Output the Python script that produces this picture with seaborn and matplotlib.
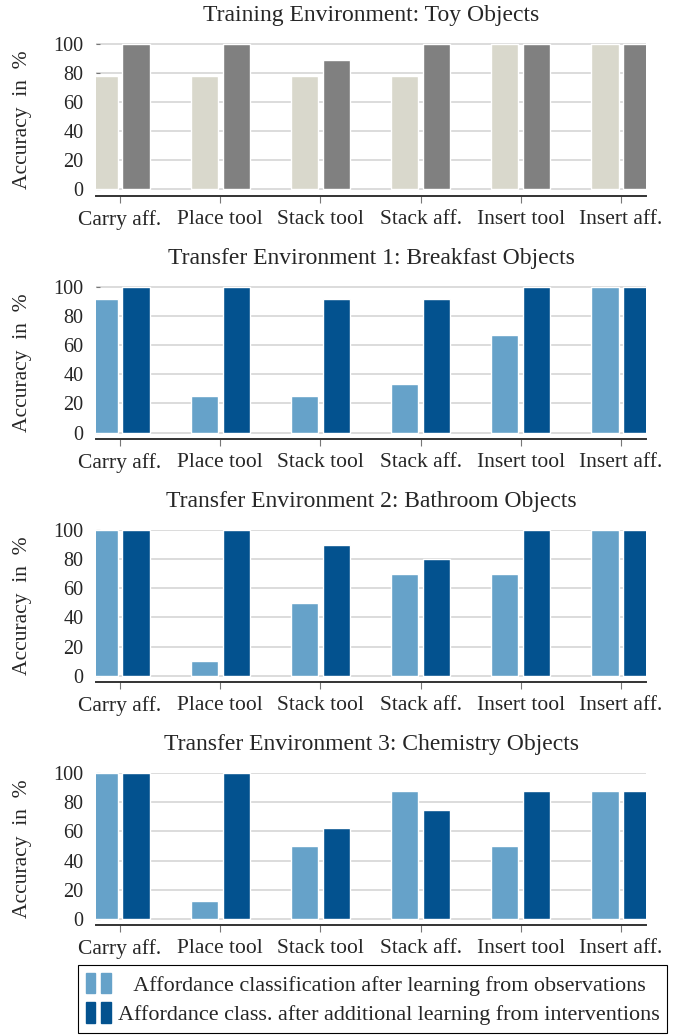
import matplotlib
matplotlib.use('Agg')
import matplotlib.pyplot as plt
import pandas as pd
import seaborn as sns
from matplotlib.patches import Rectangle
from matplotlib.legend_handler import HandlerTuple

# Tasks on the x axis
categories = ['Carry aff.', 'Place tool', 'Stack tool', 'Stack aff.', 'Insert tool', 'Insert aff.']

# Accuracy in % (observations only / after interventions)
toy_obs = [77.8, 77.8, 77.8, 77.8, 100, 100]
toy_int = [100, 100, 88.9, 100, 100, 100]
breakfast_obs = [91.7, 25, 25, 33.3, 66.7, 100]
breakfast_int = [100, 100, 91.7, 91.7, 100, 100]
bathroom_obs = [100, 10, 50, 70, 70, 100]
bathroom_int = [100, 100, 90, 80, 100, 100]
chemistry_obs = [100, 12.5, 50, 87.5, 50, 87.5]
chemistry_int = [100, 100, 62.5, 75, 87.5, 87.5]

titles = ['Training Environment: Toy Objects',
          'Transfer Environment 1: Breakfast Objects',
          'Transfer Environment 2: Bathroom Objects',
          'Transfer Environment 3: Chemistry Objects']

legend_labels = ['   Affordance classification after learning from observations',
                 'Affordance class. after additional learning from interventions']

gray_colors = ['#d9d8cc', '#808080']
blue_colors = ['#66a2c9', '#03528f']

sns.set_theme(style='white')
plt.rcParams['font.family'] = ['Liberation Serif', 'DejaVu Serif']
FS = 15.5

W, H = 688, 1036
fig = plt.figure(figsize=(W / 100, H / 100), dpi=100)

panels = [(toy_obs, toy_int, gray_colors),
          (breakfast_obs, breakfast_int, blue_colors),
          (bathroom_obs, bathroom_int, blue_colors),
          (chemistry_obs, chemistry_int, blue_colors)]

tops = [43.3, 286.4, 529.5, 772.6]
ax_h = 152.7
left, width = 96, 550

for i, (obs, intv, colors) in enumerate(panels):
    top = tops[i]
    ax = fig.add_axes([left / W, 1 - (top + ax_h) / H, width / W, ax_h / H])
    df = pd.DataFrame({
        'task': categories * 2,
        'stage': ['obs'] * len(categories) + ['int'] * len(categories),
        'acc': obs + intv,
    })
    sns.barplot(data=df, x='task', y='acc', hue='stage', palette=colors,
                width=0.64, gap=0.15, saturation=1, errorbar=None,
                legend=False, ax=ax, zorder=2)
    ax.set_xlim(-0.24, 5.25)
    ax.set_ylim(-4.5, 100.4)
    ax.set_yticks(range(0, 101, 20))
    ax.yaxis.grid(True, color='#d2d2d2', lw=1.1)
    ax.set_axisbelow(True)
    for s in ['left', 'right', 'top']:
        ax.spines[s].set_visible(False)
    ax.spines['bottom'].set_color('#333333')
    ax.spines['bottom'].set_linewidth(1.4)
    ax.tick_params(axis='x', length=4.8, width=0.8, color='#777777',
                   pad=5, labelsize=FS, bottom=True)
    ax.tick_params(axis='y', left=True, direction='in', length=3, width=0.8,
                   color='#777777', pad=9, labelsize=14.5)
    ax.set_xlabel('')
    ax.set_ylabel('Accuracy  in  %', fontsize=FS, va='center')
    ax.yaxis.set_label_coords(-73.5 / width, 0.5)
    ax.set_title(titles[i], fontsize=17, pad=16.4)

# Legend with two small bars per entry
handles = []
for c in blue_colors:
    handles.append((Rectangle((0, 0), 1, 1, color=c), Rectangle((0, 0), 1, 1, color=c)))
fig.legend(handles, legend_labels, loc='upper left',
           bbox_to_anchor=(78 / W, 1 - 965 / H), borderaxespad=0,
           handler_map={tuple: HandlerTuple(ndivide=None, pad=0.28)},
           handlelength=1.14, handleheight=1.05, handletextpad=0.3,
           labelspacing=0.3, fontsize=15.9, fancybox=False,
           edgecolor='black', framealpha=1, borderpad=0.35)
fig.legends[0].get_frame().set_linewidth(0.8)

fig.savefig('out.png', dpi=100)
